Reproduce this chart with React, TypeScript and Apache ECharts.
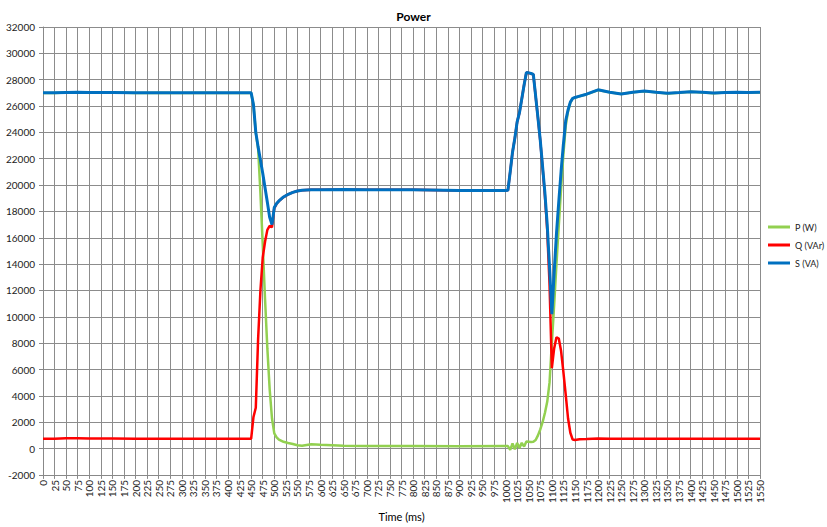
import React, { useEffect, useRef } from "react";
import * as echarts from "echarts";

const timeMs = [0,25,50,75,100,150,200,250,300,350,400,450,455,460,465,470,475,480,485,490,495,500,505,510,520,530,540,550,560,580,600,650,700,800,900,1000,1005,1010,1015,1020,1025,1030,1035,1040,1045,1050,1055,1060,1065,1070,1075,1080,1085,1090,1095,1100,1105,1110,1115,1120,1125,1130,1135,1140,1145,1150,1160,1175,1200,1225,1250,1275,1300,1325,1350,1375,1400,1425,1450,1475,1500,1525,1550];

const pW = [26990,26990,27020,27040,27010,27020,26990,27000,26990,27000,26990,26990,26080,23980,22800,19400,15500,11350,7600,4500,2300,1150,850,680,510,420,340,250,210,330,280,220,190,190,180,190,190,-100,380,-60,420,50,430,150,540,520,500,520,650,1000,1450,2000,2700,3550,5000,8000,10900,14000,16900,19750,22350,24500,25600,26270,26570,26640,26740,26890,27220,27040,26910,27040,27130,27040,26960,27010,27080,27030,26980,27020,27030,27020,27030];

const qVAr = [750,750,780,780,760,760,750,750,750,750,750,750,2400,3100,8300,12000,14500,15700,16600,16900,16800,18250,18580,18790,19090,19300,19450,19550,19600,19640,19650,19660,19650,19640,19580,19580,19600,21000,22500,23550,24800,25500,26540,27600,28545,28515,28465,28395,26740,25080,23350,21300,19200,16600,12500,6100,7600,8450,8350,7400,5800,4100,2300,1200,680,650,700,720,760,750,750,750,750,750,750,750,750,750,750,750,750,750,740];

const sVA = [27000,27000,27030,27050,27020,27030,27000,27010,27000,27010,27000,27000,26100,24000,22900,21900,20900,19800,18700,17550,17000,18300,18600,18800,19100,19300,19450,19550,19600,19640,19650,19660,19650,19640,19580,19580,19600,21000,22500,23550,24800,25500,26540,27600,28550,28520,28470,28400,26750,25100,23400,21400,19400,17000,13800,10200,13350,16300,18750,21050,23100,24900,25700,26300,26580,26650,26750,26900,27230,27050,26920,27050,27140,27050,26970,27020,27090,27040,26990,27030,27040,27030,27040];

const seriesNames = ["P (W)", "Q (VAr)", "S (VA)"];
const seriesColors = ["#92D050", "#FF0000", "#0070C0"];

const FONT = "Lato, 'Open Sans', sans-serif";

export default function App() {
  const ref = useRef<HTMLDivElement>(null);
  useEffect(() => {
    if (!ref.current) return;
    const chart = echarts.init(ref.current, undefined, { renderer: "svg" });
    const values = [pW, qVAr, sVA];
    chart.setOption({
      animation: false,
      backgroundColor: "#ffffff",
      textStyle: { fontFamily: FONT },
      title: {
        text: "Power",
        left: "center",
        top: 5,
        textStyle: { fontFamily: FONT, fontSize: 12, fontWeight: "bold", color: "#000" },
      },
      legend: {
        data: seriesNames,
        orient: "vertical",
        left: 768,
        top: 221,
        itemWidth: 22,
        itemHeight: 3,
        itemGap: 6,
        icon: "rect",
        padding: 0,
        textStyle: { fontFamily: FONT, fontSize: 9, color: "#222", lineHeight: 12 },
      },
      grid: { left: 43, right: 67, top: 27, bottom: 45, containLabel: false },
      xAxis: {
        type: "value",
        min: 0,
        max: 1550,
        interval: 25,
        name: "Time (ms)",
        nameLocation: "middle",
        nameGap: 35,
        nameTextStyle: { fontFamily: FONT, fontSize: 11, color: "#000" },
        axisLine: { onZero: false, lineStyle: { color: "#888", width: 1 } },
        axisTick: { show: true, length: 4, lineStyle: { color: "#888" } },
        axisLabel: {
          rotate: 90,
          fontSize: 10,
          color: "#222",
          margin: 5,
          fontFamily: FONT,
          formatter: (v: number) => String(v),
        },
        splitLine: { show: true, lineStyle: { color: "#8c8c8c", width: 1 } },
      },
      yAxis: {
        type: "value",
        min: -2000,
        max: 32000,
        interval: 2000,
        axisLine: { show: true, lineStyle: { color: "#888", width: 1 } },
        axisTick: { show: true, length: 4, lineStyle: { color: "#888" } },
        axisLabel: {
          fontSize: 10,
          color: "#222",
          margin: 8,
          fontFamily: FONT,
          formatter: (v: number) => String(v),
        },
        splitLine: { show: true, lineStyle: { color: "#8c8c8c", width: 1 } },
      },
      series: seriesNames.map((name, i) => ({
        name,
        type: "line",
        data: timeMs.map((t, k) => [t, values[i][k]]),
        showSymbol: false,
        symbol: "none",
        smooth: false,
        lineStyle: { color: seriesColors[i], width: i === 2 ? 3 : 2.5 },
        itemStyle: { color: seriesColors[i] },
      })),
    });
    return () => chart.dispose();
  }, []);
  return (
    <div
      ref={ref}
      style={{ position: "absolute", left: 0, top: 0, width: 827, height: 527, background: "#fff" }}
    />
  );
}
